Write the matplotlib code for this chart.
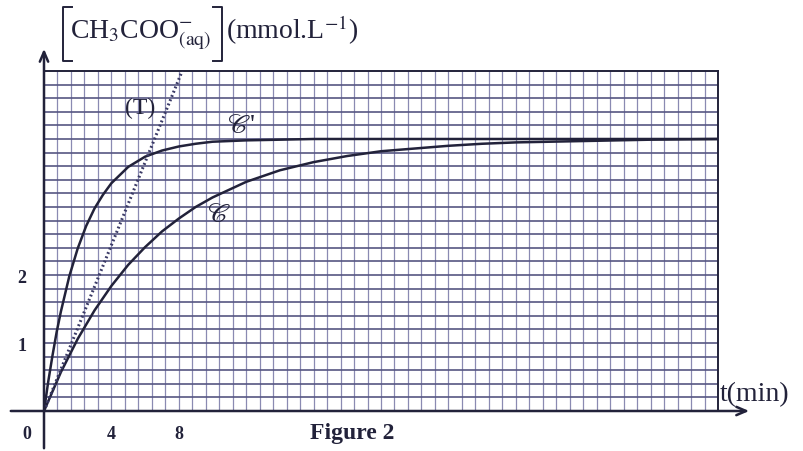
import matplotlib.pyplot as plt
from matplotlib.lines import Line2D
import numpy as np

# valeurs
t_c1 = [0, 0.25, 0.5, 0.75, 1, 1.5, 2, 2.5, 3, 3.5, 4, 5, 6, 7, 8, 9, 10, 12, 14, 16, 20, 30, 40]
c_c1 = [0, 0.43, 0.81, 1.16, 1.46, 1.98, 2.39, 2.72, 2.98, 3.18, 3.35, 3.59, 3.74, 3.83, 3.89, 3.93, 3.96, 3.98, 3.99, 4.0, 4.0, 4.0, 4.0]

t_c = [0, 1, 2, 3, 4, 5, 6, 7, 8, 9, 10, 12, 14, 16, 18, 20, 22, 24, 26, 28, 30, 32, 34, 36, 40]
c_c = [0, 0.57, 1.06, 1.48, 1.84, 2.15, 2.41, 2.64, 2.83, 3.0, 3.14, 3.37, 3.54, 3.66, 3.75, 3.82, 3.86, 3.9, 3.93, 3.95, 3.96, 3.97, 3.98, 3.99, 4.0]

# tangente (T) a l'origine
t_tan = [0, 8.2]
c_tan = [0, 5]

x_labels = [4, 8]
y_labels = [1, 2]

plt.rcParams["font.family"] = ["Liberation Serif", "DejaVu Serif"]
plt.rcParams["mathtext.fontset"] = "stix"

ink = "#22223a"
fig = plt.figure(figsize=(8.04, 4.51), dpi=100)
ax = fig.add_axes([44 / 804, 40 / 451, 674 / 804, 340 / 451])
ax.set_xlim(0, 40)
ax.set_ylim(0, 5)

# papier millimetre
for x in np.arange(0.8, 40, 0.8):
    ax.axvline(x, color="#8a8ab2", lw=0.9, zorder=1)
for y in np.arange(0.2, 5, 0.2):
    ax.axhline(y, color="#565682", lw=1.2, zorder=1)
ax.set_xticks([])
ax.set_yticks([])
for s in ["top", "right"]:
    ax.spines[s].set_color(ink)
    ax.spines[s].set_linewidth(1.4)
for s in ["left", "bottom"]:
    ax.spines[s].set_visible(False)

ax.plot(t_c1, c_c1, color=ink, lw=1.8, zorder=3)
ax.plot(t_c, c_c, color=ink, lw=1.8, zorder=3)
ax.plot(t_tan, c_tan, color="#3a3a66", lw=2.2, ls=(0, (0.6, 0.9)), zorder=3)

# axes avec fleches
ax.annotate("", xy=(752, 40), xytext=(8, 40), xycoords="figure pixels",
            arrowprops=dict(arrowstyle="->,head_width=0.3,head_length=0.7", color=ink, lw=1.8))
ax.annotate("", xy=(44, 405), xytext=(44, 0), xycoords="figure pixels",
            arrowprops=dict(arrowstyle="->,head_width=0.3,head_length=0.7", color=ink, lw=1.8))

for v in x_labels:
    ax.text(v, -0.22, str(v), ha="center", va="top", fontsize=13, fontweight="bold", color=ink)
for v in y_labels:
    ax.text(-1.3, v - 0.05, str(v), ha="center", va="center", fontsize=13, fontweight="bold", color=ink)
ax.text(-1.0, -0.22, "0", ha="center", va="top", fontsize=13, fontweight="bold", color=ink)

ax.text(40.1, 0.06, "t(min)", ha="left", va="bottom", fontsize=20, color=ink)
fig.text(352 / 804, 1 - 434 / 451, "Figure 2", ha="center", va="center",
         fontsize=17, fontweight="bold", color=ink)

# titre de l'axe vertical avec crochets
fig.text(70 / 804, 1 - 34 / 451, r"CH$_3$COO$^{-}_{\mathrm{(aq)}}$",
         ha="left", va="center", fontsize=20, color=ink)
fig.text(226 / 804, 1 - 30 / 451, r"(mmol.L$^{-1}$)",
         ha="left", va="center", fontsize=20, color=ink)
for bx, tick in [(63, 9), (222, -9)]:
    xs = [(bx + tick) / 804, bx / 804, bx / 804, (bx + tick) / 804]
    ys = [1 - 7 / 451, 1 - 7 / 451, 1 - 61 / 451, 1 - 61 / 451]
    fig.add_artist(Line2D(xs, ys, color=ink, lw=1.4))

ax.text(5.7, 4.45, "(T)", ha="center", va="center", fontsize=17, color=ink)
ax.text(11.7, 4.0, r"$\mathscr{C}$'", ha="center", va="bottom", fontsize=20, color=ink)
ax.text(10.4, 2.87, r"$\mathscr{C}$", ha="center", va="center", fontsize=20, color=ink)

fig.savefig("out.png", dpi=100)
